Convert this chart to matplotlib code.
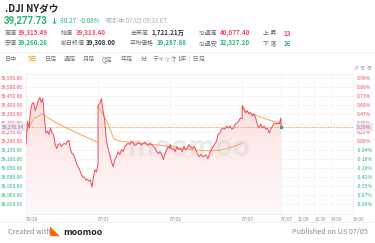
import matplotlib
matplotlib.use('Agg')
import matplotlib.pyplot as plt
import matplotlib.transforms as mtransforms
from matplotlib.patches import Polygon
import numpy as np

plt.rcParams['font.family'] = ['Noto Sans CJK JP', 'DejaVu Sans']

# --- data ---
day_names = ['06/28', '07/01', '07/02', '07/03', '07/05']
day_minutes = [390, 390, 390, 210, 390]

price_d1 = [39181, 39311, 39272, 39368, 39408, 39414, 39368, 39397, 39425, 39442,
            39414, 39436, 39328, 39243, 39255, 39237, 39272, 39243, 39237, 39181,
            39158, 39181, 39186, 39169, 39181, 39186, 39181, 39198, 39203, 39152,
            39130, 39124, 39101, 39073, 39056, 39039, 39016, 38999, 38999, 38982,
            38987, 38976, 38982, 38942, 38999, 39039, 39027, 39073]
price_d2 = [39397, 39408, 39436, 39368, 39311, 39198, 39158, 39124, 39084, 39056,
            39096, 39113, 39141, 39124, 39152, 39141, 39169, 39181, 39186, 39181,
            39198, 39186, 39175, 39181, 39190, 39186, 39178, 39186, 39192, 39181,
            39175, 39186, 39180, 39169, 39160, 39141, 39130, 39141, 39124, 39096,
            39130, 39152, 39169, 39158]
price_d3 = [39181, 39152, 39158, 39141, 39169, 39152, 39158, 39141, 39169, 39152,
            39158, 39181, 39165, 39158, 39170, 39152, 39124, 39113, 39124, 39113,
            39113, 39124, 39101, 39130, 39152, 39169, 39181, 39198, 39237, 39243,
            39266, 39272, 39266, 39283, 39272, 39283, 39266, 39272, 39294, 39300,
            39311, 39328, 39323]
price_d4 = [39397, 39380, 39357, 39368, 39351, 39357, 39340, 39351, 39328, 39294,
            39272, 39294, 39272, 39283, 39266, 39272, 39243, 39266, 39283, 39300,
            39294, 39300, 39294, 39328]
price_d5 = [39296, 39284, 39277]

avg_d1 = [39250, 39325, 39351, 39322, 39295, 39274, 39252, 39232, 39212, 39192]
avg_d2 = [39390, 39320, 39210, 39196, 39192, 39188, 39184, 39180, 39175, 39168]
avg_d3 = [39175, 39160, 39155, 39150, 39146, 39145, 39148, 39156, 39170, 39186]
avg_d4 = [39380, 39355, 39338, 39323, 39310, 39300]
avg_d5 = [39296, 39290, 39288]

last_price = 39276.34

left_ticks = [39550, 39500, 39450, 39400, 39350, 39300, 39250, 39200,
              39150, 39100, 39050, 39000, 38950, 38900, 38850]
right_labels = ['0.99%', '0.86%', '0.73%', '0.60%', '0.47%', '0.35%', '0.22%', '0.09%',
                '-0.04%', '-0.16%', '-0.29%', '-0.42%', '-0.55%', '-0.67%', '-0.80%']
time_labels = ['11:00', '12:30', '14:00', '16:00']
time_offsets = [90, 180, 270, 390]

RED = '#f04a5b'
GREEN = '#22b573'
LINE_RED = '#ef4a55'
ORANGE = '#f7a35c'
GRAY = '#8a8a8a'
DARK = '#333333'

W, H = 375, 243
fig = plt.figure(figsize=(W / 100, H / 100), dpi=100)


def fx(px):
    return px / W


def fy(py):
    return 1 - py / H


def put(px, py, s, color=DARK, size=5, weight='normal', ha='left', family=None):
    kw = {} if family is None else {'family': family}
    fig.text(fx(px), fy(py), s, color=color, fontsize=size, fontweight=weight,
             ha=ha, va='center', **kw)


# --- header ---
put(5, 9, '.DJI NYダウ', color='#222222', size=7, weight='bold')
put(4, 21, '39,277.73', color=GREEN, size=7.0, weight='bold',
    family=['Roboto', 'DejaVu Sans'])
put(50, 21, '↓', color=GREEN, size=6, weight='bold', family=['DejaVu Sans'])
put(59, 21, '-30.27', color=GREEN, size=4.6)
put(80, 21, '-0.08%', color=GREEN, size=4.6)
put(106, 21, '取引中 07/05 09:31 ET', color='#aaaaaa', size=4.4)

row1 = [(5, '高値', 18, '39,315.49', RED), (61, '始値', 76, '39,313.40', RED),
        (130, '出来高', 151, '1,721.21万', DARK), (199, '52週高', 220, '40,077.40', RED),
        (263, '上 昇', 284, '13', RED)]
row2 = [(5, '安値', 18, '39,260.26', GREEN), (61, '前日終値', 86, '39,308.00', DARK),
        (130, '平均価格', 157, '39,287.88', GREEN), (199, '52週安', 220, '32,327.20', GREEN),
        (263, '下 落', 284, '16', GREEN)]
for py, row in [(33, row1), (43, row2)]:
    for lx, lab, vx, val, col in row:
        put(lx, py, lab, color='#666666', size=4.3)
        put(vx, py, val, color=col, size=4.5, weight='bold')

fig.add_artist(plt.Line2D([0, 1], [fy(52), fy(52)], color='#eeeeee', lw=0.6))

tabs = [(5, '日中'), (28, '5日'), (45, '日足'), (64, '週足'), (83, '月足'), (102, 'Q足'),
        (121, '年足'), (141, '分'), (152, 'ティック'), (178, '1年：日足')]
for tx, t in tabs:
    put(tx, 59, t, color=('#ff8a00' if t == '5日' else '#777777'), size=4.4)
fig.add_artist(plt.Line2D([fx(174), fx(174)], [fy(55), fy(63)], color='#dddddd', lw=0.6))
put(372, 69, '↺ ⊖ ⊕', color='#aaaaaa', size=4, ha='right')

# --- chart ---
ax = fig.add_axes([fx(26), fy(214), fx(353) - fx(26), fy(74) - fy(214)])
ymin, ymax = 38793, 39573
ax.set_xlim(0, sum(day_minutes))
ax.set_ylim(ymin, ymax)

starts = np.concatenate([[0], np.cumsum(day_minutes)[:-1]])
prices = [price_d1, price_d2, price_d3, price_d4, price_d5]
avgs = [avg_d1, avg_d2, avg_d3, avg_d4, avg_d5]
xs_all, ys_all = [], []
for i, (p, a) in enumerate(zip(prices, avgs)):
    span = day_minutes[i] if i < 4 else 2
    xp = starts[i] + np.linspace(0, span, len(p))
    xa = starts[i] + np.linspace(0, span, len(a))
    xs_all.extend(xp)
    ys_all.extend(p)
    ax.plot(xa, a, color=ORANGE, lw=0.7, zorder=3)

xs_all = np.array(xs_all)
ys_all = np.array(ys_all)

# gradient fill under the price line
grad = np.linspace(0, 1, 256).reshape(-1, 1)
cmap = matplotlib.colors.LinearSegmentedColormap.from_list('fade', ['#fffafa', '#fcdede'])
img = ax.imshow(grad, cmap=cmap, aspect='auto', origin='lower',
                extent=[0, sum(day_minutes), ymin, ys_all.max()], zorder=1)
verts = np.vstack([np.column_stack([xs_all, ys_all]),
                   [[xs_all[-1], ymin], [xs_all[0], ymin]]])
clip = Polygon(verts, closed=True, fc='none', ec='none', transform=ax.transData)
ax.add_patch(clip)
img.set_clip_path(clip)

ax.plot(xs_all, ys_all, color=LINE_RED, lw=0.7, zorder=4)
ax.axhline(last_price, color=ORANGE, lw=0.6, ls=(0, (2, 1.2)), zorder=3)
ax.plot(xs_all[-1], ys_all[-1], 's', color=GREEN, ms=1.6, zorder=5)

# watermark
ax.text(0.5, 0.47, 'moomoo', transform=ax.transAxes, fontsize=20, fontweight='bold',
        color='#d8d8d8', alpha=0.5, ha='center', va='center', zorder=2)

xticks = list(starts) + [starts[4] + o for o in time_offsets]
xlabels = day_names + time_labels
ax.set_xticks(xticks)
ax.set_xticklabels(xlabels)
for lab in ax.get_xticklabels():
    lab.set_ha('left')
ax.tick_params(axis='x', length=0, pad=2.5, labelsize=3.3, labelcolor=GRAY)
ax.set_yticks(left_ticks)
ax.set_yticklabels([f'{v:,.2f}' for v in left_ticks])
ax.tick_params(axis='y', length=0, pad=2, labelsize=3.6)
for v, lab in zip(left_ticks, ax.get_yticklabels()):
    lab.set_color(RED if v >= 39200 else GREEN)
ax.grid(True, color='#f1f1f4', lw=0.5)
ax.set_axisbelow(True)
for s in ax.spines.values():
    s.set_color('#eeeeee')
    s.set_linewidth(0.5)

ax2 = ax.twinx()
ax2.set_ylim(ax.get_ylim())
ax2.set_yticks(left_ticks)
ax2.set_yticklabels(right_labels)
ax2.tick_params(axis='y', length=0, pad=3, labelsize=3.6)
for v, lab in zip(left_ticks, ax2.get_yticklabels()):
    lab.set_color(RED if v >= 39200 else GREEN)
for s in ax2.spines.values():
    s.set_visible(False)

# current price markers
trans_l = mtransforms.blended_transform_factory(fig.transFigure, ax.transData)
fig.text(fx(24), last_price, '39,276.34', transform=trans_l, fontsize=3.6, color=RED,
         ha='right', va='center',
         bbox=dict(boxstyle='square,pad=0.25', fc='#dcecfb', ec='none'))
fig.text(fx(357), last_price, '0.29%', transform=trans_l, fontsize=3.6, color=RED,
         ha='left', va='center',
         bbox=dict(boxstyle='square,pad=0.25', fc='#dcecfb', ec='none'))

# --- footer ---
fig.add_artist(plt.Line2D([0, 1], [fy(222), fy(222)], color='#eeeeee', lw=0.6))
put(8, 232, 'Created with', color=GRAY, size=5.2)
put(50, 232, '◣', color='#ff6a00', size=7, weight='bold')
put(63, 232, 'moomoo', color='#222222', size=6.4, weight='bold')
put(368, 232, 'Published on US 07/05', color=GRAY, size=5.2, ha='right')

fig.savefig('out.png', dpi=100)
